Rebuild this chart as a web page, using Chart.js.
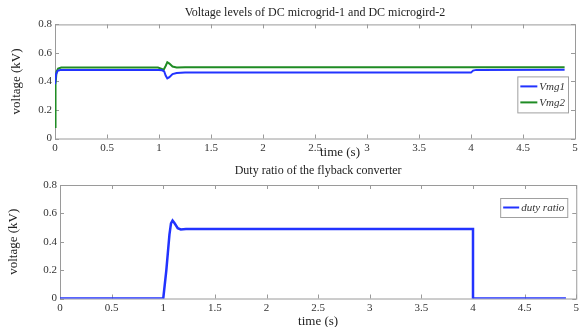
<!DOCTYPE html>
<html>
<head>
<meta charset="utf-8">
<script src="https://cdn.jsdelivr.net/npm/chart.js@4.4.1/dist/chart.umd.min.js"></script>
<style>
  html, body { margin: 0; padding: 0; background: #fff; }
  #wrap { position: relative; width: 582px; height: 327px; }
  .box { position: absolute; left: 0; width: 582px; }
  #top { top: 0; height: 160px; }
  #bottom { top: 160px; height: 167px; }
</style>
</head>
<body>
<div id="wrap">
  <div class="box" id="top"><canvas id="voltageChart"></canvas></div>
  <div class="box" id="bottom"><canvas id="dutyChart"></canvas></div>
</div>
<script>
// Simulation traces (time in s, values in kV / per unit)
const vmg1Time = [0, 0.01, 0.025, 0.05, 1.0, 1.03, 1.05, 1.065, 1.08, 1.1, 1.13, 1.17, 1.25, 4.0, 4.02, 4.05, 4.9];
const vmg1 = [0.38, 0.45, 0.475, 0.48, 0.48, 0.478, 0.47, 0.44, 0.422, 0.43, 0.452, 0.459, 0.462, 0.462, 0.476, 0.481, 0.482];

const vmg2Time = [0, 0.005, 0.015, 0.03, 0.06, 0.99, 1.02, 1.045, 1.065, 1.08, 1.1, 1.13, 1.17, 1.25, 4.9];
const vmg2 = [0.08, 0.38, 0.47, 0.49, 0.498, 0.498, 0.49, 0.482, 0.51, 0.535, 0.525, 0.505, 0.498, 0.5, 0.5];

const dutyTime = [0, 1.0, 1.03, 1.06, 1.075, 1.09, 1.11, 1.14, 1.17, 1.22, 4.0, 4.0, 4.9];
const duty = [0, 0, 0.2, 0.45, 0.53, 0.55, 0.53, 0.495, 0.487, 0.49, 0.49, 0, 0];

const xTicks = { min: 0, max: 5, step: 0.5 };
const yTicks = { min: 0, max: 0.8, step: 0.2 };

const SERIF = "'Liberation Serif', 'Times New Roman', serif";
const BLUE = '#2233ff';
const GREEN = '#1f8c24';

function toPoints(xs, ys) {
    return xs.map((x, i) => ({ x: x, y: ys[i] }));
}

// MATLAB-like tick text: 1 instead of 1.0
function shortNum(v) {
    return String(+Number(v).toFixed(2));
}

// Box around the axes with short inward tick marks on all four sides
const axesFrame = {
    id: 'axesFrame',
    beforeDatasetsDraw(chart) {
        const { ctx, chartArea: a, scales } = chart;
        const len = 4;
        ctx.save();
        ctx.strokeStyle = '#9a9a9a';
        ctx.lineWidth = 1;
        ctx.strokeRect(a.left + 0.5, a.top + 0.5, a.right - a.left, a.bottom - a.top);
        ctx.beginPath();
        scales.x.ticks.forEach(t => {
            const px = Math.round(scales.x.getPixelForValue(t.value)) + 0.5;
            ctx.moveTo(px, a.bottom); ctx.lineTo(px, a.bottom - len);
            ctx.moveTo(px, a.top); ctx.lineTo(px, a.top + len);
        });
        scales.y.ticks.forEach(t => {
            const py = Math.round(scales.y.getPixelForValue(t.value)) + 0.5;
            ctx.moveTo(a.left, py); ctx.lineTo(a.left + len, py);
            ctx.moveTo(a.right, py); ctx.lineTo(a.right - len, py);
        });
        ctx.stroke();
        ctx.restore();
    }
};

// Boxed legend placed inside the plot, top-right
const innerLegend = {
    id: 'innerLegend',
    afterDatasetsDraw(chart, args, opts) {
        const { ctx, chartArea: a } = chart;
        const sets = chart.data.datasets;
        ctx.save();
        ctx.font = 'italic 11px ' + SERIF;
        const textW = Math.max(...sets.map(d => ctx.measureText(d.label).width));
        const w = 3 + opts.sample + 2 + textW + 3;
        const h = sets.length * opts.row + 4;
        const x0 = a.right - opts.right - w;
        const y0 = a.top + opts.top;
        ctx.fillStyle = '#fff';
        ctx.fillRect(x0, y0, w, h);
        ctx.strokeStyle = '#a0a0a0';
        ctx.lineWidth = 1;
        ctx.strokeRect(x0 + 0.5, y0 + 0.5, w, h);
        sets.forEach((d, i) => {
            const cy = y0 + 2 + opts.row * (i + 0.5);
            ctx.strokeStyle = d.borderColor;
            ctx.lineWidth = 2;
            ctx.beginPath();
            ctx.moveTo(x0 + 3, cy);
            ctx.lineTo(x0 + 3 + opts.sample, cy);
            ctx.stroke();
            ctx.fillStyle = '#333';
            ctx.textBaseline = 'middle';
            ctx.fillText(d.label, x0 + 5 + opts.sample, cy + 0.5);
        });
        ctx.restore();
    }
};

// x-axis caption positioned at a time value below the axis
const timeCaption = {
    id: 'timeCaption',
    afterDraw(chart, args, opts) {
        const { ctx, chartArea: a, scales } = chart;
        ctx.save();
        ctx.font = '13px ' + SERIF;
        ctx.fillStyle = '#222';
        ctx.textAlign = 'center';
        ctx.textBaseline = 'middle';
        ctx.fillText(opts.text, scales.x.getPixelForValue(opts.at), a.bottom + opts.offset);
        ctx.restore();
    }
};

function makeOptions(cfg) {
    return {
        responsive: true,
        maintainAspectRatio: false,
        animation: false,
        layout: { padding: { left: 0, right: cfg.padRight, top: 0, bottom: 0 } },
        elements: { point: { radius: 0 }, line: { tension: 0 } },
        plugins: {
            legend: { display: false },
            tooltip: { enabled: false },
            title: {
                display: true,
                fullSize: false,
                text: cfg.title,
                color: '#222',
                font: { family: SERIF, size: 12, weight: 'normal' },
                padding: cfg.titlePad
            },
            innerLegend: cfg.legend,
            timeCaption: cfg.caption
        },
        scales: {
            x: {
                type: 'linear',
                min: xTicks.min,
                max: xTicks.max,
                grid: { display: false, drawTicks: false },
                border: { display: false },
                ticks: {
                    stepSize: xTicks.step,
                    padding: 3,
                    color: '#333',
                    maxRotation: 0,
                    autoSkip: false,
                    font: { family: SERIF, size: 11 },
                    callback: shortNum
                },
                afterFit: s => { s.height = cfg.xHeight; }
            },
            y: {
                min: yTicks.min,
                max: yTicks.max,
                grid: { display: false, drawTicks: false },
                border: { display: false },
                ticks: {
                    stepSize: yTicks.step,
                    padding: 3,
                    color: '#333',
                    font: { family: SERIF, size: 11 },
                    callback: shortNum
                },
                title: {
                    display: true,
                    text: 'voltage (kV)',
                    color: '#222',
                    font: { family: SERIF, size: 13 },
                    padding: { top: cfg.yTitlePad, bottom: 0 }
                },
                afterFit: s => { s.width = cfg.yWidth; }
            }
        }
    };
}

new Chart(document.getElementById('voltageChart'), {
    type: 'line',
    data: {
        datasets: [
            { label: 'Vmg1', data: toPoints(vmg1Time, vmg1), borderColor: BLUE, borderWidth: 2, fill: false },
            { label: 'Vmg2', data: toPoints(vmg2Time, vmg2), borderColor: GREEN, borderWidth: 2, fill: false }
        ]
    },
    options: makeOptions({
        title: 'Voltage levels of DC microgrid-1 and DC microgird-2',
        titlePad: { top: 6, bottom: 4 },
        padRight: 7,
        xHeight: 21.5,
        yWidth: 55,
        yTitlePad: 9,
        legend: { right: 7, top: 52, row: 16, sample: 17 },
        caption: { text: 'time (s)', at: 2.74, offset: 14 }
    }),
    plugins: [axesFrame, innerLegend, timeCaption]
});

new Chart(document.getElementById('dutyChart'), {
    type: 'line',
    data: {
        datasets: [
            { label: 'duty ratio', data: toPoints(dutyTime, duty), borderColor: BLUE, borderWidth: 2.5, fill: false }
        ]
    },
    options: makeOptions({
        title: 'Duty ratio of the flyback converter',
        titlePad: { top: 4, bottom: 6.6 },
        padRight: 2.5,
        xHeight: 28.5,
        yWidth: 60,
        yTitlePad: 6,
        legend: { right: 9, top: 13, row: 15, sample: 16 },
        caption: { text: 'time (s)', at: 2.5, offset: 23 }
    }),
    plugins: [axesFrame, innerLegend, timeCaption]
});
</script>
</body>
</html>
